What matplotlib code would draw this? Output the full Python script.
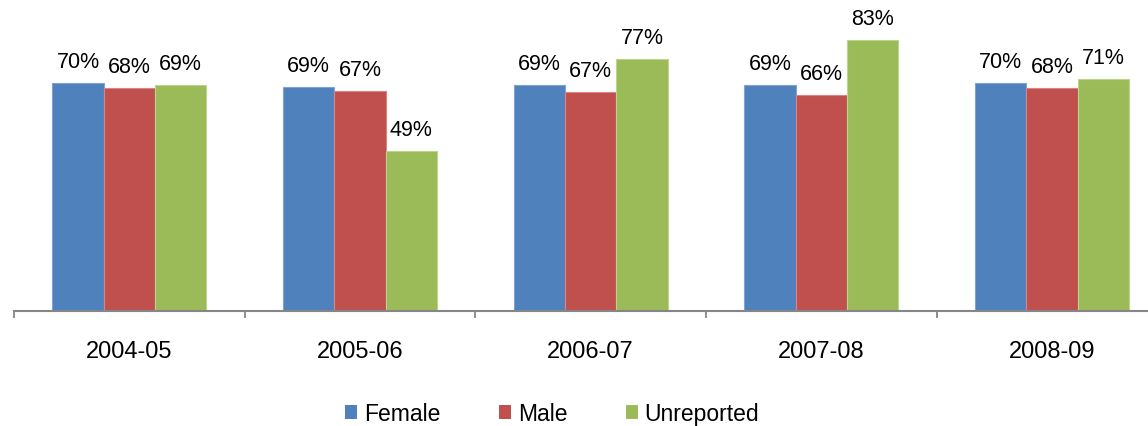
import matplotlib
matplotlib.use("Agg")
import matplotlib.pyplot as plt
import numpy as np

categories = ["2004-05", "2005-06", "2006-07", "2007-08", "2008-09"]
female = [69.8, 68.6, 69.4, 69.2, 69.8]
male = [68.4, 67.4, 67.1, 66.2, 68.3]
unreported = [69.2, 49.0, 77.3, 83.0, 71.1]
series_names = ["Female", "Male", "Unreported"]
colors = ["#4F81BD", "#C0504D", "#9BBB59"]
edge_colors = ["#7FA3D3", "#D88583", "#BBD58C"]

plt.rcParams["font.family"] = ["Liberation Sans", "DejaVu Sans"]

W, H = 1148, 427
fig = plt.figure(figsize=(W / 100, H / 100), dpi=100)
left_px, right_px = 14, 1167.5
base_px = 312.3
ax = fig.add_axes([left_px / W, (H - base_px) / H, (right_px - left_px) / W, base_px / H])
ax.set_xlim(-0.5, len(categories) - 0.5)
ax.set_ylim(0, base_px / 3.265)

x = np.arange(len(categories))
bw = 0.2225
all_series = [female, male, unreported]
for i, (vals, name) in enumerate(zip(all_series, series_names)):
    xs = x + (i - 1) * bw
    ax.bar(xs, vals, width=bw, color=colors[i], edgecolor=edge_colors[i],
           linewidth=0.8, label=name, zorder=2)
    for xi, v in zip(xs, vals):
        ax.annotate(f"{v:.0f}%", (xi, v), xytext=(0, 11.5), textcoords="offset points",
                    ha="center", va="baseline", fontsize=15.5, color="black")

for s in ["left", "right", "top"]:
    ax.spines[s].set_visible(False)
ax.spines["bottom"].set_color("#868686")
ax.spines["bottom"].set_linewidth(1.5)
ax.set_yticks([])

bounds = np.arange(len(categories) + 1) - 0.5
ax.set_xticks(bounds)
ax.set_xticklabels([])
ax.tick_params(axis="x", which="major", length=5, width=1.3, color="#868686", direction="out")
ax.set_xticks(x, minor=True)
ax.set_xticklabels(categories, minor=True, fontsize=17)
ax.tick_params(axis="x", which="minor", length=0, pad=20.5)

handles, labels = ax.get_legend_handles_labels()
leg = fig.legend(handles, labels, loc="center", bbox_to_anchor=(552 / W, 1 - 414.5 / H),
                 ncol=3, frameon=False, fontsize=16.5, handlelength=0.55, handleheight=0.55,
                 handletextpad=0.28, columnspacing=2.55, borderpad=0)
for h in leg.legend_handles:
    h.set_edgecolor("none")

fig.savefig("out.png", dpi=100)
